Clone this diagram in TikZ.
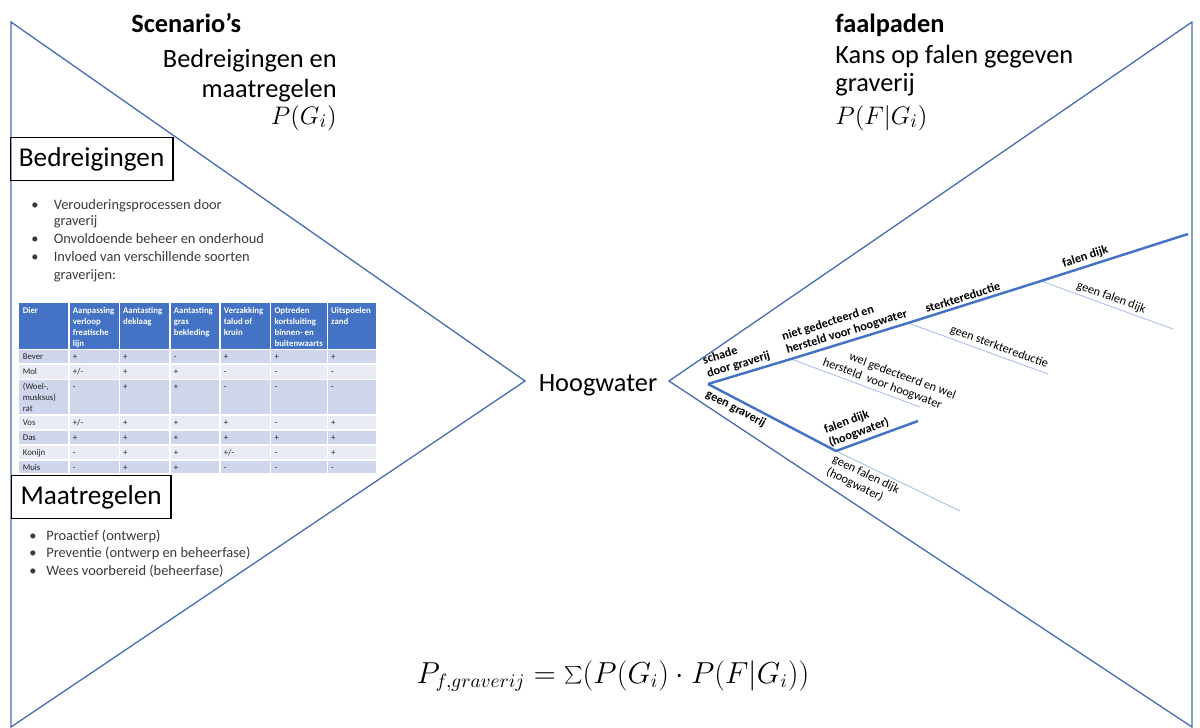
\documentclass[tikz,border=0pt]{standalone}
\usepackage{fontspec}
\setmainfont{Carlito}
\definecolor{bowblue}{HTML}{4A6CB0}
\definecolor{pathblue}{HTML}{4472C4}
\definecolor{altblue}{HTML}{A9BEE6}
\definecolor{rowdark}{HTML}{CFD5EA}
\definecolor{rowlight}{HTML}{E9EBF5}
\definecolor{bodygray}{HTML}{3A3A3A}
\tikzset{
  bowline/.style={draw=bowblue, line width=0.75pt},
  pathline/.style={draw=pathblue, line width=1.4pt},
  altline/.style={draw=altblue, line width=0.5pt},
  pathlabel/.style={font=\fontsize{7}{8}\selectfont\bfseries, sloped, inner sep=1.5pt, align=left},
  altlabel/.style={font=\fontsize{7}{8}\selectfont, sloped, inner sep=1.5pt, align=left},
  titletext/.style={font=\fontsize{15}{18}\selectfont, inner sep=0pt},
  headbox/.style={draw, line width=0.7pt, font=\fontsize{15.5}{18}\selectfont, minimum height=0.86cm, inner sep=0pt, anchor=north west},
  bullettext/.style={font=\fontsize{8.2}{10}\selectfont, text=bodygray, inner sep=0pt, anchor=base west},
  headcell/.style={font=\fontsize{5}{6.2}\selectfont\bfseries, text=white, inner sep=0pt, anchor=north west, align=left},
  bodycell/.style={font=\fontsize{5}{6.2}\selectfont, text=black!85, inner sep=0pt, anchor=north west, align=left}
}

\begin{document}
\begin{tikzpicture}[x=0.02cm, y=-0.02cm]
			%%%%% START %%%%%
			\useasboundingbox (0,0) rectangle (1200,727);
			
			% bowtie
			\draw[bowline] (11,22) -- (525,381) -- (11,727) -- cycle;
			\draw[bowline] (1192,22) -- (669,381) -- (1192,727) -- cycle;
			\node[font=\fontsize{15}{18}\selectfont, inner sep=0pt, anchor=base] (hoog) at (598,391.5) {Hoogwater};
			
			% titles
			\node[titletext, anchor=base west] (scen) at (131,32) {\textbf{Scenario’s}};
			\node[titletext, anchor=base east] (threat) at (337,67) {Bedreigingen en};
			\node[titletext, anchor=base east] (meas) at (337,97) {maatregelen};
			\node[titletext, anchor=base east] (pg) at (337,124) {$P(G_i)$};
			\node[titletext, anchor=base west] (faal) at (835,32) {\textbf{faalpaden}};
			\node[titletext, anchor=base west] (kans) at (835,63) {Kans op falen gegeven};
			\node[titletext, anchor=base west] (grav) at (835,91) {graverij};
			\node[titletext, anchor=base west] (pfg) at (835,124) {$P(F|G_i)$};
			
			% threats
			\node[headbox, minimum width=3.26cm] (bedr) at (9.5,137) {Bedreigingen};
			\foreach \by/\bsym/\btxt [count=\i] in {209/•/Verouderingsprocessen door, 225//graverij,
				243/•/Onvoldoende beheer en onderhoud, 261/•/Invloed van verschillende soorten, 279//graverijen:}{
				\node[bullettext] (bdot\i) at (31,\by) {\bsym};
				\node[bullettext] (btxt\i) at (53.5,\by) {\btxt};
			}
			
			% table
			\fill[pathblue] (19,303.3) rectangle (376,349.3);
			\foreach \ytop/\ybot/\rowfill in {349.3/364/rowdark, 364/379.3/rowlight, 379.3/415/rowdark,
				415/430/rowlight, 430/445/rowdark, 445/460/rowlight, 460/472.7/rowdark}{
				\fill[\rowfill] (19,\ytop) rectangle (376,\ybot);
				\draw[white, line width=0.6pt] (19,\ytop) -- (376,\ytop);
			}
			\foreach \cx in {69,119.3,170,220,270.7,327.3}{
				\draw[white, line width=0.6pt] (\cx,303.3) -- (\cx,472.7);
			}
			\foreach \cx/\htxt [count=\i] in {19/Dier, 69/{Aanpassing\\verloop\\freatische\\lijn},
				119.3/{Aantasting\\deklaag}, 170/{Aantasting\\gras\\bekleding}, 220/{Verzakking\\talud of\\kruin},
				270.7/{Optreden\\kortsluiting\\binnen- en\\buitenwaarts}, 327.3/{Uitspoelen\\zand}}{
				\node[headcell] (head\i) at (\cx+3.5,307) {\htxt};
			}
			\foreach \ytop/\cells in {349.3/{Bever,+,+,-,+,+,+}, 364/{Mol,{+/-},+,+,-,-,-},
				379.3/{{(Woel-,\\musksus)\\rat},-,+,+,-,-,-}, 415/{Vos,{+/-},+,+,+,-,+},
				430/{Das,+,+,+,+,+,+}, 445/{Konijn,-,+,+,{+/-},-,+}, 460/{Muis,-,+,+,-,-,-}}{
				\foreach \v [count=\k from 0] in \cells {
					\pgfmathsetmacro\cx{{19,69,119.3,170,220,270.7,327.3}[\k]}
					\node[bodycell] at (\cx+3.5,\ytop+3.6) {\vphantom{(}\v};
				}
			}
			
			% measures
			\node[headbox, minimum width=3.2cm] (maat) at (10.5,475) {Maatregelen};
			\foreach \my/\mtxt [count=\i] in {540/Proactief (ontwerp), 557/Preventie (ontwerp en beheerfase),
				575/Wees voorbereid (beheerfase)}{
				\node[bullettext] (mdot\i) at (29,\my) {•};
				\node[bullettext] (mtxt\i) at (46,\my) {\mtxt};
			}
			
			% failure paths
			\coordinate (root) at (708,384);
			\coordinate (s1) at (791,359);
			\coordinate (s2) at (908,323);
			\coordinate (s3) at (1041,281);
			\coordinate (tip) at (1188,234);
			\coordinate (e1) at (920,407);
			\coordinate (e2) at (1048,374);
			\coordinate (e3) at (1173,329);
			\coordinate (lc) at (836,451);
			\coordinate (ltip) at (918,421);
			\coordinate (le) at (960,511);
			
			\draw[altline] (s1) -- node[altlabel, above, pos=0.72] {\hspace*{13pt}wel gedecteerd en wel\\hersteld~ voor hoogwater} (e1);
			\draw[altline] (s2) -- node[altlabel, above, pos=0.63] {geen sterktereductie} (e2);
			\draw[altline] (s3) -- node[altlabel, above, pos=0.51] {geen falen dijk} (e3);
			\draw[altline] (lc) -- node[altlabel, below, pos=0.27] {geen falen dijk\\(hoogwater)} (le);
			\draw[pathline] (root) -- node[pathlabel, above, pos=0.4] {schade\\door graverij} (s1)
				-- node[pathlabel, above, pos=0.5] {niet gedecteerd en\\hersteld voor hoogwater} (s2)
				-- node[pathlabel, above, pos=0.43] {sterktereductie} (s3)
				-- node[pathlabel, above, pos=0.32] {falen dijk} (tip);
			\draw[pathline] (root) -- node[pathlabel, below, pos=0.25] {geen graverij} (lc)
				-- node[pathlabel, above, pos=0.32] {falen dijk\\(hoogwater)} (ltip);
			
			% total
			\node[font=\fontsize{16}{19}\selectfont, inner sep=0pt, anchor=base] (total) at (613,683)
				{$P_{f,graverij} = \textstyle\sum(P(G_i)\cdot P(F|G_i))$};
			%%%%% END %%%%%
\end{tikzpicture}
\end{document}
